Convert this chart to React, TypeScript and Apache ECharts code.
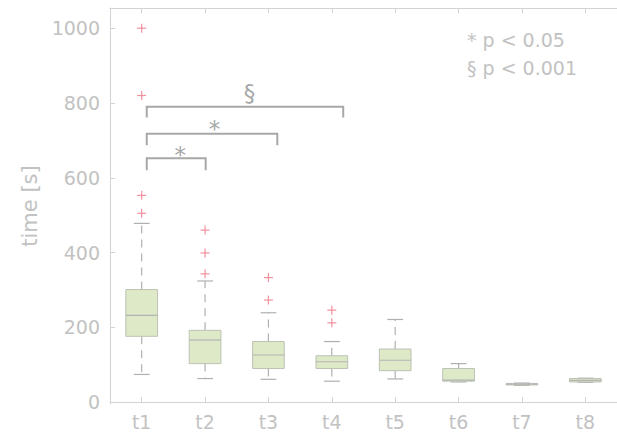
import React, { useEffect, useRef } from "react";
import * as echarts from "echarts";

// ---- data ----
const categories = ["t1", "t2", "t3", "t4", "t5", "t6", "t7", "t8"];
// [low whisker, q1, median, q3, high whisker]
const boxLow = [74, 63, 61, 56, 62, 54, 45, 53];
const boxQ1 = [176, 103, 90, 90, 84, 56, 46, 54];
const boxMedian = [232, 166, 126, 108, 112, 59, 48, 58];
const boxQ3 = [301, 192, 162, 124, 142, 90, 50, 63];
const boxHigh = [478, 324, 239, 162, 221, 103, 51, 64];
// outliers: [category index (1-based), value]
const outliers: [number, number][] = [
  [1, 1000], [1, 820], [1, 553], [1, 505],
  [2, 460], [2, 399], [2, 343],
  [3, 333], [3, 273],
  [4, 246], [4, 212],
];
const yTicks = [0, 200, 400, 600, 800, 1000];
// significance brackets
const bracketStart = [1.08, 1.08, 1.08];
const bracketEnd = [2.01, 3.14, 4.18];
const bracketTop = [652, 718, 790];
const bracketFoot = [620, 687, 761];
const bracketMark = ["*", "*", "§"];
const markX = [1.61, 2.15, 2.7];
const markY = [660, 730, 826];
const legendLines = ["* p < 0.05", "§ p < 0.001"];

const TEXT = "#c2c2c2";
const AXIS = "#d2d2d2";
const FONT = "DejaVu Sans";

export default function App() {
  const ref = useRef<HTMLDivElement>(null);
  useEffect(() => {
    if (!ref.current) return;
    const chart = echarts.init(ref.current, null, { renderer: "svg" });
    const boxData = categories.map((_, i) => [
      i + 1, boxLow[i], boxQ1[i], boxMedian[i], boxQ3[i], boxHigh[i],
    ]);
    const bracketData = bracketStart.map((s, i) => [
      s, bracketEnd[i], bracketTop[i], bracketFoot[i], markX[i], markY[i],
    ]);
    const option: any = {
      animation: false,
      grid: { left: 110, top: 8, width: 520, height: 396 },
      xAxis: [
        {
          type: "value",
          min: 0.5,
          max: 8.5,
          axisLine: { show: true, lineStyle: { color: AXIS, width: 1 } },
          axisTick: {
            show: true,
            inside: true,
            length: 5,
            customValues: categories.map((_, i) => i + 1),
            lineStyle: { color: AXIS },
          },
          axisLabel: {
            customValues: categories.map((_, i) => i + 1),
            formatter: (v: number) => categories[Math.round(v) - 1] ?? "",
            color: TEXT,
            fontFamily: FONT,
            fontSize: 19,
            margin: 8,
          },
          splitLine: { show: false },
        },
        {
          type: "value",
          position: "top",
          min: 0.5,
          max: 8.5,
          axisLine: { show: true, onZero: false, lineStyle: { color: AXIS, width: 1 } },
          axisTick: {
            show: true,
            inside: true,
            length: 5,
            customValues: categories.map((_, i) => i + 1),
            lineStyle: { color: AXIS },
          },
          axisLabel: { show: false },
          splitLine: { show: false },
        },
      ],
      yAxis: {
        type: "value",
        min: -5,
        max: 1054,
        name: "time [s]",
        nameLocation: "middle",
        nameGap: 63,
        nameTextStyle: { color: TEXT, fontFamily: FONT, fontSize: 21 },
        axisLine: { show: true, lineStyle: { color: AXIS, width: 1 } },
        axisTick: {
          show: true,
          inside: true,
          length: 5,
          customValues: yTicks,
          lineStyle: { color: AXIS },
        },
        axisLabel: {
          customValues: yTicks,
          formatter: (v: number) => String(v),
          color: TEXT,
          fontFamily: FONT,
          fontSize: 19,
          margin: 10,
        },
        splitLine: { show: false },
      },
      series: [
        {
          type: "custom",
          name: "box",
          xAxisIndex: 0,
          data: boxData,
          renderItem: (params: any, api: any) => {
            const x = api.value(0);
            const pLow = api.coord([x, api.value(1)]);
            const pQ1 = api.coord([x, api.value(2)]);
            const pMed = api.coord([x, api.value(3)]);
            const pQ3 = api.coord([x, api.value(4)]);
            const pHigh = api.coord([x, api.value(5)]);
            const half = api.size([0.5, 0])[0] / 2;
            const cap = api.size([0.25, 0])[0] / 2;
            const cx = pMed[0];
            const whisk = { stroke: "#b0b0b0", lineWidth: 1.2, lineDash: [8, 6] };
            const solid = { stroke: "#b0b0b0", lineWidth: 1.2 };
            return {
              type: "group",
              children: [
                { type: "line", shape: { x1: cx, y1: pQ3[1], x2: cx, y2: pHigh[1] }, style: whisk },
                { type: "line", shape: { x1: cx, y1: pQ1[1], x2: cx, y2: pLow[1] }, style: whisk },
                { type: "line", shape: { x1: cx - cap, y1: pHigh[1], x2: cx + cap, y2: pHigh[1] }, style: solid },
                { type: "line", shape: { x1: cx - cap, y1: pLow[1], x2: cx + cap, y2: pLow[1] }, style: solid },
                {
                  type: "rect",
                  shape: { x: cx - half, y: pQ3[1], width: half * 2, height: Math.max(pQ1[1] - pQ3[1], 1.5) },
                  style: { fill: "#dde9c7", stroke: "#bcc2b4", lineWidth: 1 },
                },
                { type: "line", shape: { x1: cx - half, y1: pMed[1], x2: cx + half, y2: pMed[1] }, style: { stroke: "#b4b4b4", lineWidth: 1.2 } },
              ],
            };
          },
        },
        {
          type: "custom",
          name: "outliers",
          xAxisIndex: 0,
          data: outliers,
          renderItem: (params: any, api: any) => {
            const p = api.coord([api.value(0), api.value(1)]);
            const s = 4.5;
            const st = { stroke: "#f2909c", lineWidth: 1.2 };
            return {
              type: "group",
              children: [
                { type: "line", shape: { x1: p[0] - s, y1: p[1], x2: p[0] + s, y2: p[1] }, style: st },
                { type: "line", shape: { x1: p[0], y1: p[1] - s, x2: p[0], y2: p[1] + s }, style: st },
              ],
            };
          },
        },
        {
          type: "custom",
          name: "brackets",
          xAxisIndex: 0,
          data: bracketData,
          renderItem: (params: any, api: any) => {
            const a = api.coord([api.value(0), api.value(3)]);
            const b = api.coord([api.value(0), api.value(2)]);
            const c = api.coord([api.value(1), api.value(2)]);
            const d = api.coord([api.value(1), api.value(3)]);
            const m = api.coord([api.value(4), api.value(5)]);
            return {
              type: "group",
              children: [
                {
                  type: "polyline",
                  shape: { points: [a, b, c, d] },
                  style: { stroke: "#a8a8a8", lineWidth: 2, fill: "none" },
                },
                {
                  type: "text",
                  x: m[0],
                  y: m[1],
                  style: {
                    text: bracketMark[params.dataIndex],
                    fill: "#a8a8a8",
                    font: `23px '${FONT}'`,
                    textAlign: "center",
                    textVerticalAlign: "middle",
                  },
                },
              ],
            };
          },
        },
      ],
      graphic: [
        {
          type: "text",
          left: 467,
          top: 30,
          style: { text: legendLines[0], fill: TEXT, font: `19px '${FONT}'` },
        },
        {
          type: "text",
          left: 467,
          top: 58,
          style: { text: legendLines[1], fill: TEXT, font: `19px '${FONT}'` },
        },
      ],
    };
    chart.setOption(option);
    return () => chart.dispose();
  }, []);
  return (
    <div
      ref={ref}
      style={{ position: "absolute", left: 0, top: 0, width: 617, height: 441 }}
    />
  );
}
